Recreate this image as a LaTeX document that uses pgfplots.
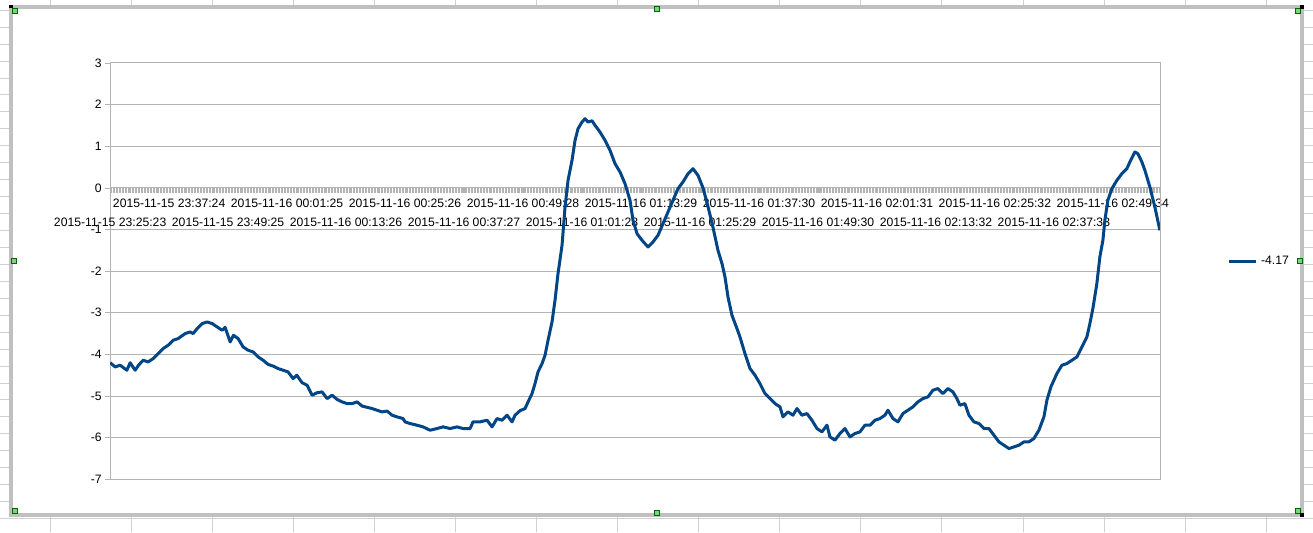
\documentclass[border=0pt]{standalone}
\usepackage{fontspec}
\setmainfont{Liberation Sans}
\usepackage{pgfplots}
\usepackage{pgfplotstable}
\pgfplotsset{compat=1.18}
\usetikzlibrary{backgrounds}

\definecolor{series}{HTML}{004586}
\definecolor{gridc}{HTML}{B3B3B3}
\definecolor{sheet}{HTML}{D0D0D0}
\definecolor{framec}{HTML}{C0C0C0}
\definecolor{handle}{HTML}{7FD37F}

% minutes after 2015-11-15 23:25:23
\pgfplotstableread{
t v
0.00 -4.20
1.02 -4.30
2.04 -4.26
3.40 -4.38
4.07 -4.20
5.09 -4.38
5.77 -4.26
6.72 -4.14
7.74 -4.18
8.75 -4.10
9.77 -3.98
10.79 -3.86
11.81 -3.78
12.82 -3.66
13.84 -3.62
15.27 -3.50
16.28 -3.46
16.90 -3.50
17.71 -3.38
18.73 -3.26
19.75 -3.22
20.76 -3.26
21.78 -3.34
22.80 -3.42
23.41 -3.35
24.43 -3.70
25.10 -3.54
26.06 -3.62
27.07 -3.82
28.09 -3.90
29.11 -3.94
30.13 -4.06
31.14 -4.14
32.16 -4.24
33.18 -4.28
34.20 -4.34
35.22 -4.38
36.23 -4.42
37.25 -4.58
38.00 -4.50
39.08 -4.68
40.10 -4.74
41.12 -4.98
42.14 -4.92
43.15 -4.90
44.17 -5.06
45.19 -4.98
46.21 -5.08
47.23 -5.14
48.24 -5.18
49.26 -5.18
50.28 -5.14
51.30 -5.24
52.31 -5.27
53.33 -5.30
54.35 -5.34
55.37 -5.38
56.39 -5.36
57.40 -5.46
58.42 -5.50
59.64 -5.54
60.05 -5.62
61.07 -5.66
62.49 -5.70
63.71 -5.74
65.14 -5.82
66.56 -5.78
67.79 -5.74
69.21 -5.78
70.64 -5.74
71.86 -5.78
73.28 -5.78
73.89 -5.62
75.32 -5.62
76.74 -5.58
77.76 -5.74
78.78 -5.54
79.80 -5.58
80.81 -5.46
81.83 -5.62
82.44 -5.46
83.46 -5.35
84.48 -5.30
85.09 -5.14
85.90 -4.94
86.51 -4.70
87.12 -4.42
87.94 -4.22
88.55 -4.02
89.16 -3.66
89.97 -3.22
90.58 -2.70
91.19 -2.06
92.01 -1.38
92.62 -0.46
93.23 0.18
94.04 0.66
94.66 1.14
95.27 1.42
96.08 1.58
96.69 1.66
97.30 1.58
98.12 1.61
98.73 1.50
99.74 1.34
100.76 1.14
101.78 0.90
102.80 0.58
103.82 0.38
104.83 0.10
105.85 -0.30
106.46 -0.78
107.28 -1.10
108.29 -1.26
109.52 -1.42
110.53 -1.30
111.55 -1.14
112.57 -0.86
113.59 -0.58
114.60 -0.30
115.62 -0.02
116.64 0.14
117.66 0.34
118.67 0.46
119.69 0.30
120.71 0.00
121.73 -0.45
122.75 -0.95
123.76 -1.50
124.58 -1.82
125.19 -2.14
125.80 -2.62
126.61 -3.06
127.63 -3.38
128.24 -3.58
129.26 -3.98
130.28 -4.34
131.30 -4.50
132.31 -4.70
133.33 -4.94
134.35 -5.06
135.37 -5.18
136.39 -5.26
137.00 -5.50
138.01 -5.38
139.03 -5.46
139.85 -5.30
140.86 -5.46
141.88 -5.42
142.90 -5.58
143.92 -5.78
144.93 -5.86
145.95 -5.70
146.56 -5.98
147.58 -6.06
148.60 -5.90
149.62 -5.78
150.63 -5.98
151.65 -5.90
152.67 -5.86
153.69 -5.70
154.71 -5.70
155.72 -5.58
156.74 -5.54
157.76 -5.46
158.37 -5.34
159.39 -5.54
160.41 -5.62
161.42 -5.42
162.44 -5.34
163.46 -5.26
164.48 -5.14
165.49 -5.06
166.51 -5.02
167.53 -4.86
168.55 -4.82
169.56 -4.94
170.58 -4.82
171.60 -4.90
172.41 -5.06
173.03 -5.22
174.04 -5.18
174.86 -5.46
175.88 -5.62
176.90 -5.66
177.92 -5.78
178.93 -5.78
179.95 -5.94
180.97 -6.10
181.99 -6.18
183.00 -6.26
184.02 -6.22
185.04 -6.18
186.06 -6.10
187.08 -6.10
188.09 -6.02
189.11 -5.82
190.13 -5.50
190.74 -5.10
191.55 -4.78
192.77 -4.46
193.79 -4.26
194.81 -4.22
195.83 -4.14
196.84 -4.06
197.86 -3.82
198.88 -3.58
199.49 -3.26
200.10 -2.90
200.91 -2.30
201.52 -1.66
202.14 -1.26
202.54 -0.78
203.15 -0.30
203.97 -0.02
204.99 0.18
206.00 0.34
207.02 0.46
207.63 0.62
208.65 0.86
209.26 0.82
210.08 0.62
210.69 0.42
211.71 0.02
212.72 -0.46
213.74 -1.02
}\datatable

\begin{document}
\begin{tikzpicture}
  \begin{axis}[
      scale only axis, width=1051pt, height=416.6pt,
      xmin=0, xmax=213.94, ymin=-7, ymax=3,
      axis x line=middle, axis y line=left,
      axis line style={gridc, -, line width=0.8pt},
      tick align=outside,
      major tick length=5pt, minor tick length=5pt,
      tick style={gridc, line width=0.6pt},
      ytick={-7,-6,...,3},
      yticklabels={-7,-6,-5,-4,-3,-2,-1,0,1,2,3},
      ymajorgrids, grid style={gridc, line width=0.8pt},
      xtick={12.01,36.03,60.05,84.07,108.09,132.11,156.13,180.15,204.17},
      xticklabels={2015-11-15 23:37:24,2015-11-16 00:01:25,2015-11-16 00:25:26,
        2015-11-16 00:49:28,2015-11-16 01:13:29,2015-11-16 01:37:30,
        2015-11-16 02:01:31,2015-11-16 02:25:32,2015-11-16 02:49:34},
      xticklabel style={yshift=-2.5pt},
      extra x ticks={0,24.02,48.04,72.06,96.08,120.10,144.12,168.14,192.16},
      extra x tick labels={2015-11-15 23:25:23,2015-11-15 23:49:25,2015-11-16 00:13:26,
        2015-11-16 00:37:27,2015-11-16 01:01:28,2015-11-16 01:25:29,
        2015-11-16 01:49:30,2015-11-16 02:13:32,2015-11-16 02:37:33},
      extra x tick style={xticklabel style={yshift=-19.5pt}},
      minor xtick={0,0.3,...,213.9},
      ticklabel style={font=\fontsize{12.2}{14}\selectfont, text=black},
      legend style={draw=none, fill=none, at={(axis description cs:1.060,0.524)},
        anchor=west, font=\fontsize{12.2}{14}\selectfont},
      legend image code/.code={\draw[#1] (0pt,0pt) -- (27pt,0pt);},
    ]
    \addplot[series, line width=3pt, line join=round] table[x=t, y=v] {\datatable};
    \addlegendentry{\hspace{2pt}-4.17}
    \draw[gridc, line width=0.8pt] (axis cs:213.94,-7) -- (axis cs:213.94,3);
    \coordinate (O) at (axis cs:0,-7);
  \end{axis}

  % spreadsheet and chart frame, in pixels of the screen (plot corner at 110,52.7)
  \begin{scope}[shift={(O)}, xshift=-110pt, yshift=-52.7pt, x=1pt, y=1pt]
    \begin{pgfonlayer}{background}
      \fill[white] (0,0) rectangle (1313,532);
      \foreach \k in {0,...,15} {
        \draw[sheet] ({50+81.07*\k},532) -- ++(0,-8);
        \draw[sheet] ({50+81.07*\k},0) -- ++(0,18);
      }
      \foreach \k in {-1,...,29} {
        \draw[sheet] (0,{532-26.7-16.95*\k}) -- ++(12,0);
        \draw[sheet] (1300,{532-26.7-16.95*\k}) -- (1313,{532-26.7-16.95*\k});
      }
      \draw[sheet] (0,13.7) -- (1313,13.7);
    \end{pgfonlayer}
    \draw[framec, line width=4] (11.2,525.1) rectangle (1301.7,17);
    % selection handles
    \foreach \p in {(15,521),(657,523),(1298,521),(14,271),(1300,271),(15,21),(657,19),(1298,21)} {
      \filldraw[fill=handle, draw=green!40!black, line width=0.6] \p ++(-2.6,-2.6) rectangle ++(5.2,5.2);
    }
    \fill[black] (9,527.3) rectangle (12.7,524);
    \fill[black] (1300,527.3) rectangle (1304,523.3);
    \fill[black] (1300,19.3) rectangle (1304,15.3);
  \end{scope}
\end{tikzpicture}
\end{document}
